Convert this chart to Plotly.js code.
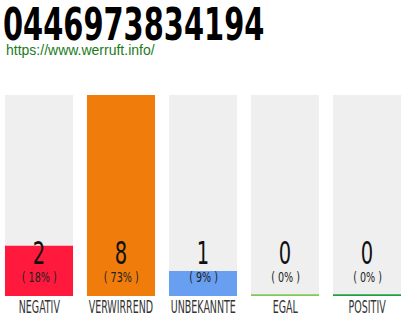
<!DOCTYPE html>
<html>
<head>
<meta charset="utf-8">
<script src="https://cdn.plot.ly/plotly-3.0.1.min.js"></script>
<style>
  html, body { margin: 0; padding: 0; background: #fff; }
  #chart { width: 410px; height: 320px; }
  /* condensed look for the headline, counts and category labels */
  #chart .gtitle { transform-box: fill-box; transform-origin: 0% 50%; transform: scale(0.73, 1.0); }
  #chart .annotation.count text { transform-box: fill-box; transform-origin: 50% 50%; transform: scale(0.7, 1.05); }
  #chart .annotation.pct text { transform-box: fill-box; transform-origin: 50% 50%; transform: scale(0.82, 1.1); }
  #chart .annotation.cat text { transform-box: fill-box; transform-origin: 50% 50%; transform: scale(0.66, 1.08); }
</style>
</head>
<body>
<div id="chart"></div>
<script>
// Rating categories and their vote counts
const categories = ["NEGATIV", "VERWIRREND", "UNBEKANNTE", "EGAL", "POSITIV"];
const counts = [2, 8, 1, 0, 0];
const barColors = ["#ff1a3d", "#f07d0b", "#689ff0", "#7fc95a", "#1fa246"];
const phoneNumber = "0446973834194";
const siteUrl = "https://www.werruft.info/";

const total = counts.reduce((a, b) => a + b, 0);
const maxCount = Math.max(...counts);
const percents = counts.map(v => total ? Math.round(v / total * 100) : 0);

const NARROW = "DejaVu Sans Condensed, DejaVu Sans, sans-serif";
const BAR_WIDTH = 0.83;
const STRIPE = maxCount * 0.009; // thin coloured baseline under every column

const traces = [
  { // grey column background, full height
    type: "bar", x: categories, y: categories.map(() => maxCount),
    width: BAR_WIDTH, marker: { color: "#efefef" }, hoverinfo: "skip"
  },
  { // coloured baseline stripe
    type: "bar", x: categories, y: categories.map(() => STRIPE),
    width: BAR_WIDTH, marker: { color: barColors }, hoverinfo: "skip"
  },
  { // vote counts
    type: "bar", x: categories, y: counts,
    width: BAR_WIDTH, marker: { color: barColors }, hoverinfo: "skip"
  }
];

// annotation groups, tagged after drawing so CSS can condense them
const annotations = [];
const roles = [];
function addNote(role, note) { annotations.push(note); roles.push(role); }

addNote("link", {
  x: 0, xref: "paper", xanchor: "left", xshift: 4,
  y: (296 - 50) / 201, yref: "paper", yanchor: "middle",
  text: siteUrl, showarrow: false,
  font: { family: "Liberation Sans, Arial, sans-serif", size: 14, color: "#1d7a24" }
});
categories.forEach((c, i) => {
  addNote("count", {
    x: c, xref: "x", y: (296 - 252) / 201, yref: "paper",
    text: String(counts[i]), showarrow: false, yanchor: "middle",
    font: { family: NARROW, size: 31, color: "#111" }
  });
  addNote("pct", {
    x: c, xref: "x", y: (296 - 277) / 201, yref: "paper",
    text: "( " + percents[i] + "% )", showarrow: false, yanchor: "middle",
    font: { family: NARROW, size: 13, color: "#222" }
  });
  addNote("cat", {
    x: c, xref: "x", y: 0, yref: "paper", yanchor: "middle", yshift: -11,
    text: c, showarrow: false,
    font: { family: NARROW, size: 16, color: "#333" }
  });
});

const layout = {
  width: 410, height: 320,
  margin: { l: 0, r: 0, t: 95, b: 24, pad: 0 },
  paper_bgcolor: "#fff", plot_bgcolor: "#fff",
  barmode: "overlay", showlegend: false,
  title: {
    text: "<b>" + phoneNumber + "</b>",
    x: 0, xref: "container", xanchor: "left", pad: { l: 3 },
    y: 1 - 25 / 320, yref: "container", yanchor: "middle",
    font: { family: NARROW, size: 44, color: "#000" }
  },
  xaxis: {
    type: "category", categoryarray: categories,
    range: [-39 / 82, (410 - 39) / 82],
    showgrid: false, zeroline: false, showline: false, ticks: "",
    showticklabels: false, fixedrange: true
  },
  yaxis: {
    range: [0, maxCount], showgrid: false, zeroline: false,
    showticklabels: false, ticks: "", fixedrange: true
  },
  annotations: annotations
};

function tagAnnotations() {
  document.querySelectorAll("#chart .annotation").forEach(g => {
    const role = roles[+g.getAttribute("data-index")];
    if (role) g.classList.add(role);
  });
}

Plotly.newPlot("chart", traces, layout, { staticPlot: true, displayModeBar: false })
  .then(tagAnnotations);
</script>
</body>
</html>
